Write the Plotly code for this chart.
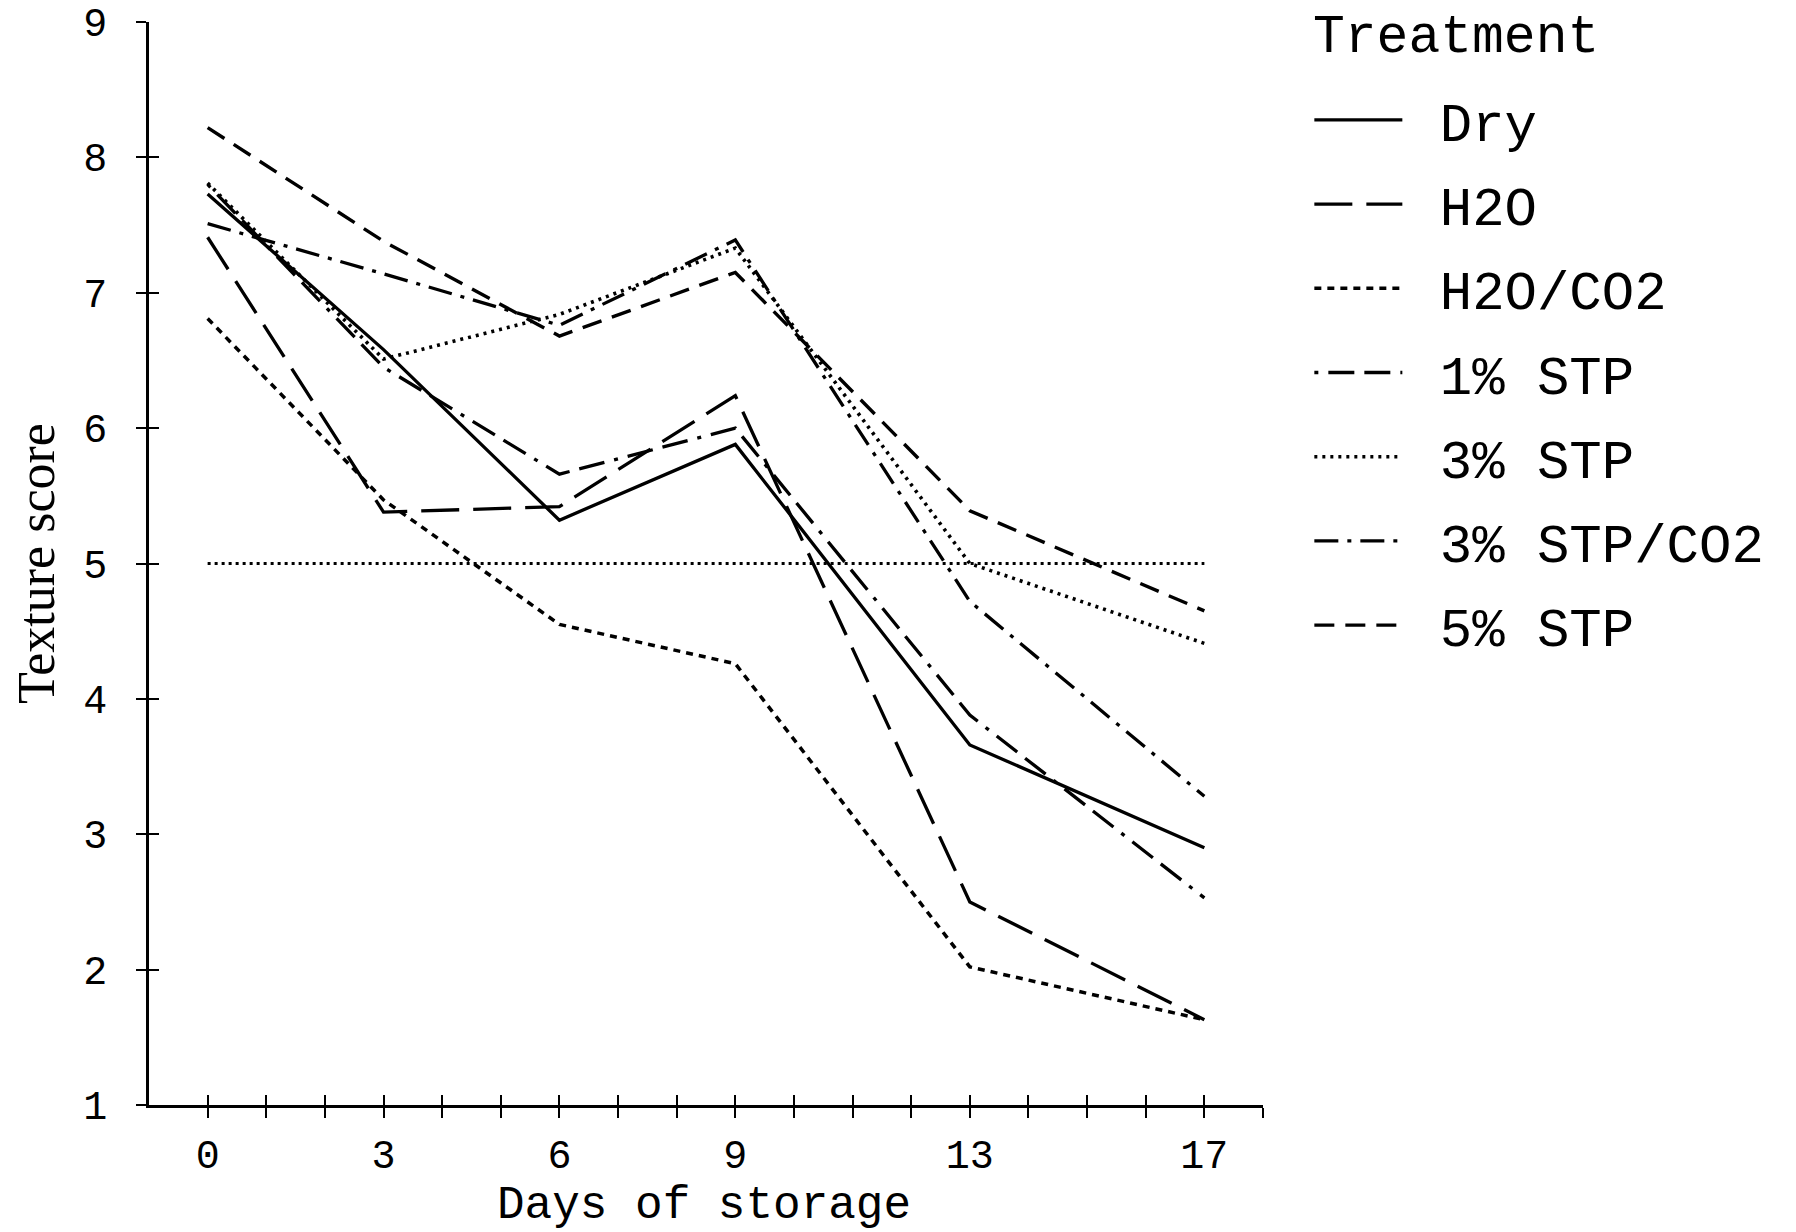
import plotly.graph_objects as go

# ---- data ----
days = [0, 3, 6, 9, 13, 17]
treatments = ["Dry", "H2O", "H2O/CO2", "1% STP", "3% STP", "3% STP/CO2", "5% STP"]
dry = [7.73, 6.58, 5.32, 5.88, 3.66, 2.90]
h2o = [7.41, 5.38, 5.42, 6.24, 2.50, 1.63]
h2o_co2 = [6.81, 5.47, 4.55, 4.26, 2.02, 1.63]
stp_1 = [7.80, 6.45, 5.66, 6.00, 3.88, 2.53]
stp_3 = [7.81, 6.51, 6.84, 7.33, 5.00, 4.41]
stp_3_co2 = [7.51, 7.14, 6.76, 7.39, 4.72, 3.28]
stp_5 = [8.22, 7.38, 6.68, 7.15, 5.39, 4.65]
threshold = 5

x_tick_days = list(range(0, 19))
x_tick_labels = ["0", "", "", "3", "", "", "6", "", "", "9", "", "", "", "13", "", "", "", "17", ""]
y_ticks = list(range(1, 10))
x_title = "Days of storage"
y_title = "Texture score"
legend_title = "Treatment"

series = [dry, h2o, h2o_co2, stp_1, stp_3, stp_3_co2, stp_5]

# ---- styles ----
dash_styles = [
    "solid",
    "38px,14px",
    "7px,6px",
    "4px,10px,26px,10px,26px,10px",
    "3px,5px",
    "24px,9px,4px,9px",
    "20px,11px",
]
line_widths = [3.3, 3.3, 3.5, 3.3, 3.6, 3.3, 3.4]

MONO = "Liberation Mono"
SERIF = "Liberation Serif"
NBSP = "\u00a0"

fig = go.Figure()
for name, vals, dash, w in zip(treatments, series, dash_styles, line_widths):
    fig.add_trace(go.Scatter(
        x=days, y=vals, name=NBSP + name, mode="lines",
        line=dict(color="black", width=w, dash=dash),
        legendgroup=name,
    ))

# horizontal reference line at the acceptability threshold (drawn on overlay axes)
fig.add_trace(go.Scatter(
    x=[days[0], days[-1]], y=[threshold, threshold], mode="lines",
    line=dict(color="black", width=3.2, dash="3px,4px"),
    showlegend=False, xaxis="x2", yaxis="y2", hoverinfo="skip",
))

xr = [-1, 18]
yr = [1, 9]

fig.update_layout(
    width=1796, height=1232,
    paper_bgcolor="white", plot_bgcolor="white",
    margin=dict(l=141, r=541, t=14, b=135),
    showlegend=True,
    legend=dict(
        font=dict(family=MONO, size=54, color="black"),
        x=1.0416, xanchor="left", y=0.948, yanchor="top",
        itemwidth=88, tracegroupgap=11,
        bgcolor="rgba(0,0,0,0)", borderwidth=0,
    ),
    annotations=[
        dict(
            text=legend_title, xref="paper", yref="paper",
            x=1.0431, y=0.9855, xanchor="left", yanchor="middle",
            showarrow=False, font=dict(family=MONO, size=53, color="black"),
        ),
        dict(
            text=x_title, xref="paper", yref="paper",
            x=0.4985, y=-0.0933, xanchor="center", yanchor="middle",
            showarrow=False, font=dict(family=MONO, size=46, color="black"),
        ),
    ],
    xaxis=dict(
        range=xr, showgrid=False, zeroline=False,
        showline=True, linecolor="black", linewidth=2.5,
        ticks="outside", ticklen=10, tickwidth=2.2, tickcolor="black",
        tickvals=x_tick_days, ticktext=x_tick_labels,
        tickfont=dict(family=MONO, size=40, color="black"),
        ticklabelstandoff=2,
        automargin=False,
    ),
    yaxis=dict(
        range=yr, showgrid=False, zeroline=False,
        showline=True, linecolor="black", linewidth=2.5,
        ticks="outside", ticklen=10, tickwidth=2.2, tickcolor="black",
        tickvals=y_ticks, ticklabeloverflow="allow",
        tickfont=dict(family=MONO, size=40, color="black"),
        ticklabelstandoff=21,
        title=dict(text=y_title, font=dict(family=SERIF, size=52, color="black"), standoff=31),
        automargin=False,
    ),
    xaxis2=dict(
        range=xr, overlaying="x", anchor="y2", side="bottom",
        showgrid=False, zeroline=False, showline=False,
        ticks="inside", ticklen=10, tickwidth=2.2, tickcolor="black",
        tickvals=x_tick_days, showticklabels=False, automargin=False,
    ),
    yaxis2=dict(
        range=yr, overlaying="y", anchor="x2", side="left",
        showgrid=False, zeroline=False, showline=False,
        ticks="inside", ticklen=10, tickwidth=2.2, tickcolor="black",
        tickvals=y_ticks, showticklabels=False, automargin=False,
    ),
)

fig.write_html("out.html")
